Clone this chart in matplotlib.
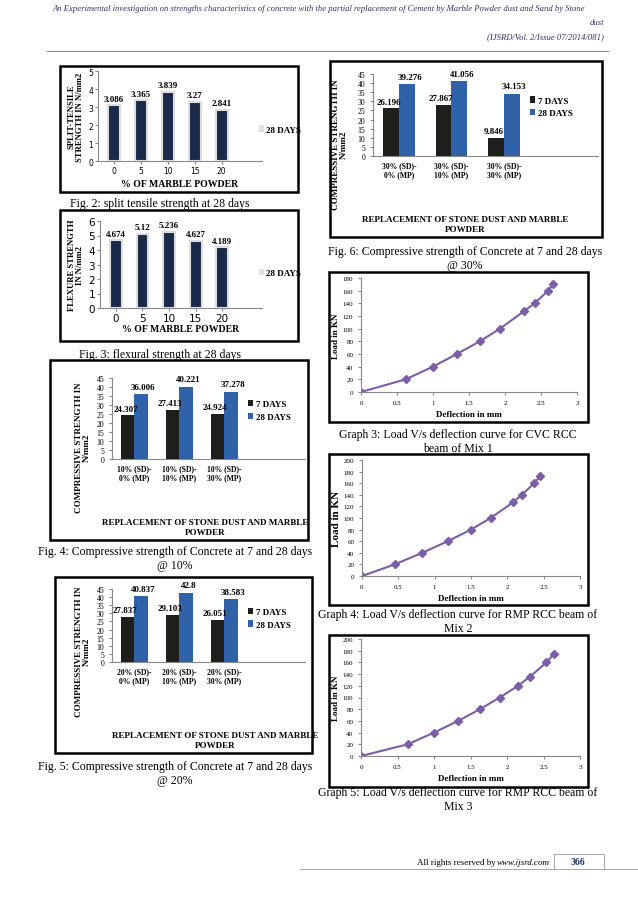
import matplotlib
matplotlib.use("Agg")
import matplotlib.pyplot as plt
from matplotlib.patches import Rectangle

W, H = 638, 903
fig = plt.figure(figsize=(W/100, H/100), dpi=100)
fig.patch.set_facecolor("white")
SERIF = "Liberation Serif"
plt.rcParams["font.family"] = SERIF

def ax_px(x0, y0, x1, y1):
    return fig.add_axes([x0/W, 1-y1/H, (x1-x0)/W, (y1-y0)/H])

def box(x0, y0, x1, y1, lw=1.8):
    fig.add_artist(Rectangle((x0/W, 1-y1/H), (x1-x0)/W, (y1-y0)/H, fill=False,
                             lw=lw, ec="black", transform=fig.transFigure))

def txt(x, y, s, **kw):
    return fig.text(x/W, 1-y/H, s, **kw)

# ---------- data ----------
marble_pct = ["0", "5", "10", "15", "20"]
split_tensile = [3.086, 3.365, 3.839, 3.27, 2.841]
flexural = [4.674, 5.12, 5.236, 4.627, 4.189]

cat10 = ["10% (SD)-\n0% (MP)", "10% (SD)-\n10% (MP)", "10% (SD)-\n30% (MP)"]
c10_7 = [24.307, 27.413, 24.924]
c10_28 = [36.006, 40.221, 37.278]
cat20 = ["20% (SD)-\n0% (MP)", "20% (SD)-\n10% (MP)", "20% (SD)-\n30% (MP)"]
c20_7 = [27.837, 29.103, 26.051]
c20_28 = [40.837, 42.8, 38.583]
cat30 = ["30% (SD)-\n0% (MP)", "30% (SD)-\n10% (MP)", "30% (SD)-\n30% (MP)"]
c30_7 = [26.196, 27.867, 9.846]
c30_28 = [39.276, 41.056, 34.153]

g3_x = [0, 0.62, 1.0, 1.33, 1.65, 1.93, 2.27, 2.41, 2.6, 2.67]
g3_y = [0, 20, 40, 60, 80, 100, 128, 140, 160, 170]
g4_x = [0, 0.45, 0.83, 1.18, 1.5, 1.77, 2.08, 2.2, 2.37, 2.45]
g4_y = [0, 20, 40, 60, 80, 100, 127, 140, 160, 172]
g5_x = [0, 0.64, 1.0, 1.33, 1.63, 1.9, 2.15, 2.31, 2.54, 2.64]
g5_y = [0, 20, 40, 60, 80, 100, 120, 135, 160, 174]

NAVY = "#1b2a4a"
DARK = "#1e1e1a"
BLUE = "#2f62a8"
PURPLE = "#7b5ea7"

def style(ax, fs=6):
    for s in ["top", "right"]:
        ax.spines[s].set_visible(False)
    ax.spines["left"].set_color("#888888")
    ax.spines["bottom"].set_color("#888888")
    ax.tick_params(labelsize=fs, length=2, color="#888888")

# ---------- header ----------
txt(319, 9, "An Experimental investigation on strengths characteristics of concrete with the partial replacement of Cement by Marble Powder dust and Sand by Stone",
    ha="center", va="center", fontsize=6.2, style="italic", color="#333366")
txt(604, 23, "dust", ha="right", va="center", fontsize=6.2, style="italic", color="#333366")
txt(604, 37, "(IJSRD/Vol. 2/Issue 07/2014/081)", ha="right", va="center", fontsize=6.2, style="italic", color="#333366")
fig.add_artist(plt.Line2D([47/W, 608/W], [1-52/H, 1-52/H], color="#7f8fa6", lw=0.8))

# ---------- single bar charts ----------
def single_bar(axpos, boxpos, vals, ylim, ystep, ylabel, ylab_x, cap_y, caption, fs_tick, xlpad, leg_y):
    box(*boxpos)
    ax = ax_px(*axpos)
    x = range(len(vals))
    ax.bar(x, vals, width=0.45, color=NAVY, edgecolor="#dddddd", lw=1.5, zorder=3)
    for i, v in enumerate(vals):
        ax.text(i, v + ylim*0.03, f"{v:g}", ha="center", va="bottom", fontsize=6.5, fontweight="bold")
    ax.set_xlim(-0.6, len(vals) - 0.4 + 0.9)
    ax.set_ylim(0, ylim)
    ax.set_yticks(range(0, ylim + 1, ystep))
    ax.set_xticks(list(x))
    ax.set_xticklabels(marble_pct, fontfamily="DejaVu Sans")
    for l in ax.get_yticklabels():
        l.set_fontfamily("DejaVu Sans")
    style(ax, fs_tick)
    ax.tick_params(axis="both", pad=1.5)
    ax.set_xlabel("% OF MARBLE POWDER", fontsize=7, fontweight="bold", labelpad=xlpad)
    ax.set_ylabel(ylabel, fontsize=6.2, fontweight="bold", linespacing=1.0)
    ax.yaxis.set_label_coords(ylab_x, 0.5)
    ax.bar([0], [0], color="#dddddd", label="28 DAYS")
    ax.legend(loc="center left", bbox_to_anchor=(0.93, leg_y), frameon=False,
              handlelength=0.6, handletextpad=0.2, prop={"weight": "bold", "size": 6.5})
    txt(160, cap_y, caption, ha="center", va="center", fontsize=8.5)

single_bar((98, 72, 262, 162), (60, 67, 298, 193), split_tensile, 5, 1,
           "SPLIT-TENSILE\nSTRENGTH IN N/mm2", -0.085, 204, "Fig. 2: split tensile strength at 28 days", 5.5, 3, 0.35)
single_bar((100, 222, 262, 309), (60, 211, 298, 342), flexural, 6, 1,
           "FLEXURE STRENGTH\nIN N/mm2", -0.1, 355, "Fig. 3: flexural strength at 28 days", 7.5, 1, 0.4)

# ---------- grouped bar charts ----------
def grouped(axpos, boxpos, cats, v7, v28, xlabel_y, xlabel_x, cap_lines, cap_x, cap_y):
    box(*boxpos)
    ax = ax_px(*axpos)
    n = len(cats)
    xs = list(range(n))
    w = 0.3
    ax.bar([i - w/2 for i in xs], v7, width=w, color=DARK, label="7 DAYS", zorder=3)
    ax.bar([i + w/2 for i in xs], v28, width=w, color=BLUE, label="28 DAYS", zorder=3)
    for i in xs:
        ax.text(i - w/2 - 0.05, v7[i] + 1.5, f"{v7[i]:g}", ha="center", va="bottom", fontsize=6.5, fontweight="bold")
        ax.text(i + w/2 + 0.05, v28[i] + 2, f"{v28[i]:g}", ha="center", va="bottom", fontsize=6.5, fontweight="bold")
    ax.set_xlim(-0.5, n + 0.8)
    ax.set_ylim(0, 45)
    ax.set_yticks(range(0, 46, 5))
    ax.set_xticks(xs)
    ax.set_xticklabels(cats, fontsize=5.5, fontweight="bold")
    style(ax, 5.5)
    ax.tick_params(axis="x", length=0)
    ax.set_ylabel("COMPRESSIVE STRENGTH IN\nN/mm2", fontsize=6.5, fontweight="bold", linespacing=1.0)
    ax.yaxis.set_label_coords(-0.11, 0.15)
    ax.legend(loc="center left", bbox_to_anchor=(0.66, 0.6), frameon=False,
              handlelength=0.6, handletextpad=0.3, prop={"weight": "bold", "size": 6.5})
    txt(xlabel_x, xlabel_y, "REPLACEMENT OF STONE DUST AND MARBLE\nPOWDER", ha="center", va="center",
        fontsize=6.5, fontweight="bold", linespacing=1.3)
    txt(cap_x, cap_y, cap_lines, ha="center", va="center", fontsize=8.5, linespacing=1.2)

grouped((112, 379, 305, 460), (50, 361, 308, 541), cat10, c10_7, c10_28, 528, 205,
        "Fig. 4: Compressive strength of Concrete at 7 and 28 days\n@ 10%", 175, 559)
grouped((112, 590, 305, 663), (55, 578, 312, 754), cat20, c20_7, c20_28, 741, 215,
        "Fig. 5: Compressive strength of Concrete at 7 and 28 days\n@ 20%", 175, 774)
grouped((373, 75, 598, 157), (330, 62, 602, 238), cat30, c30_7, c30_28, 225, 465,
        "Fig. 6: Compressive strength of Concrete at 7 and 28 days\n@ 30%", 465, 259)

# ---------- load-deflection curves ----------
def curve(axpos, boxpos, xs, ys, ymax, ylabel_fs, cap, cap_y):
    box(*boxpos)
    ax = ax_px(*axpos)
    ax.plot(xs, ys, color=PURPLE, marker="D", markersize=4, lw=1.5)
    ax.set_xlim(0, 3)
    ax.set_ylim(0, ymax)
    ax.set_yticks(range(0, ymax + 1, 20))
    ax.set_xticks([0, 0.5, 1, 1.5, 2, 2.5, 3])
    ax.set_xticklabels(["0", "0.5", "1", "1.5", "2", "2.5", "3"])
    style(ax, 5)
    ax.set_xlabel("Deflection in mm", fontsize=6.5, fontweight="bold", labelpad=4)
    ax.set_ylabel("Load in KN", fontsize=ylabel_fs, fontweight="bold", labelpad=2)
    txt(458, cap_y, cap, ha="center", va="center", fontsize=8.5, linespacing=1.2)

curve((361, 279, 577, 393), (329, 273, 588, 423), g3_x, g3_y, 180, 6.5,
      "Graph 3: Load V/s deflection curve for CVC RCC\nbeam of Mix 1", 442)
curve((362, 461, 580, 577), (329, 455, 588, 606), g4_x, g4_y, 200, 8,
      "Graph 4: Load V/s deflection curve for RMP RCC beam of\nMix 2", 622)
curve((361, 640, 580, 757), (329, 636, 588, 788), g5_x, g5_y, 200, 6.5,
      "Graph 5: Load V/s deflection curve for RMP RCC beam of\nMix 3", 800)

# ---------- footer ----------
txt(550, 863, "www.ijsrd.com", ha="right", va="center", fontsize=6.5, style="italic")
txt(496, 863, "All rights reserved by", ha="right", va="center", fontsize=6.5)
txt(578, 863, "366", ha="center", va="center", fontsize=7, fontweight="bold", color="#1f3864")
fig.add_artist(plt.Line2D([300/W, 637/W], [1-870/H, 1-870/H], color="#999999", lw=0.6))
fig.add_artist(plt.Line2D([554/W, 554/W], [1-855/H, 1-870/H], color="#999999", lw=0.6))
fig.add_artist(plt.Line2D([604/W, 604/W], [1-855/H, 1-870/H], color="#999999", lw=0.6))
fig.add_artist(plt.Line2D([554/W, 604/W], [1-855/H, 1-855/H], color="#999999", lw=0.6))

fig.savefig("out.png", dpi=100, facecolor="white")
